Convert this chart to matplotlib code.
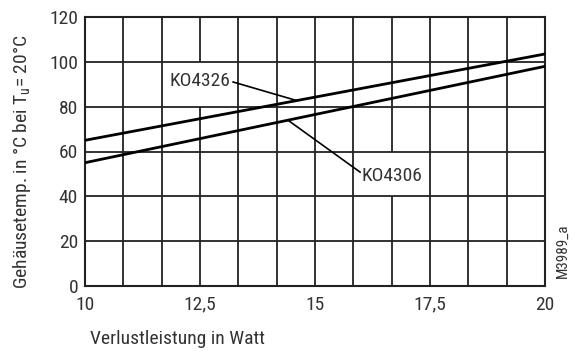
import numpy as np
import matplotlib
matplotlib.use("Agg")
import matplotlib.pyplot as plt
from matplotlib import font_manager as fm

# schmale Schrift suchen, sonst Liberation Sans
namen = {f.name for f in fm.fontManager.ttflist}
schmal = [f for f in fm.fontManager.ttflist
          if f.name == 'DejaVu Sans' and 'condensed' in str(f.stretch)]
if 'Liberation Sans Narrow' in namen:
    plt.rcParams['font.family'] = ['Liberation Sans Narrow', 'DejaVu Sans']
    fs = 14
elif 'Roboto Condensed' in namen:
    plt.rcParams['font.family'] = ['Roboto Condensed', 'DejaVu Sans']
    fs = 14
elif schmal:
    plt.rcParams['font.family'] = ['DejaVu Sans']
    plt.rcParams['font.stretch'] = 'condensed'
    fs = 13
else:
    plt.rcParams['font.family'] = ['Liberation Sans', 'DejaVu Sans']
    fs = 12

# Daten: Gehäusetemperatur über Verlustleistung
leistung = [10, 20]
ko4326 = [65, 103.5]
ko4306 = [55, 98]

x_ticks = [10, 12.5, 15, 17.5, 20]
x_labels = ['10', '12,5', '15', '17,5', '20']
y_ticks = [0, 20, 40, 60, 80, 100, 120]

fig = plt.figure(figsize=(5.79, 3.52), dpi=100)
ax = fig.add_axes([85/579, 1 - 286/352, 460/579, 269/352])
ax.set_xlim(10, 20)
ax.set_ylim(0, 120)

lc = '#222222'
# Gitter (Lücken hinter den Beschriftungen)
for gx in np.linspace(10, 20, 13)[1:-1]:
    if abs(gx - 12.5) < 1e-6:
        ax.vlines([gx, gx], [0, 100], [80, 120], color=lc, lw=1.3, zorder=1)
    elif abs(gx - 50/3) < 1e-6:
        ax.vlines([gx, gx], [0, 60], [40, 120], color=lc, lw=1.3, zorder=1)
    else:
        ax.axvline(gx, color=lc, lw=1.3, zorder=1)
for gy in y_ticks[1:-1]:
    ax.axhline(gy, color=lc, lw=1.3, zorder=1)

ax.plot(leistung, ko4326, color='black', lw=2, zorder=3, solid_capstyle='butt')
ax.plot(leistung, ko4306, color='black', lw=2, zorder=3, solid_capstyle='butt')

# Beschriftungen mit Hinweislinien
ax.plot([13.22, 14.59], [91.0, 82.8], color='black', lw=1.2, zorder=3)
ax.text(13.17, 91.5, 'KO4326', ha='right', va='center', fontsize=fs, color='#333333')
ax.plot([14.41, 15.98], [74.0, 50.8], color='black', lw=1.2, zorder=3)
ax.text(16.02, 49.0, 'KO4306', ha='left', va='center', fontsize=fs, color='#333333')

for s in ax.spines.values():
    s.set_linewidth(1.5)
    s.set_color(lc)

ax.set_xticks(x_ticks)
ax.set_xticklabels(x_labels)
ax.set_yticks(y_ticks)
ax.tick_params(length=0, labelsize=fs, colors='#333333', pad=5)
ax.tick_params(axis='x', pad=7)

fig.text(90/579, 1 - 339/352, 'Verlustleistung in Watt', ha='left', va='center',
         fontsize=fs, color='#333333')
fig.text(22/579, 1 - 162/352, r'Gehäusetemp. in °C bei T$_\mathregular{u}$= 20°C',
         rotation=90, ha='center', va='center', fontsize=fs, color='#333333')
fig.text(563/579, 1 - 251/352, 'M3989_a', rotation=90, ha='center', va='center',
         fontsize=fs * 0.78, color='#333333')

fig.savefig('out.png', dpi=100)
